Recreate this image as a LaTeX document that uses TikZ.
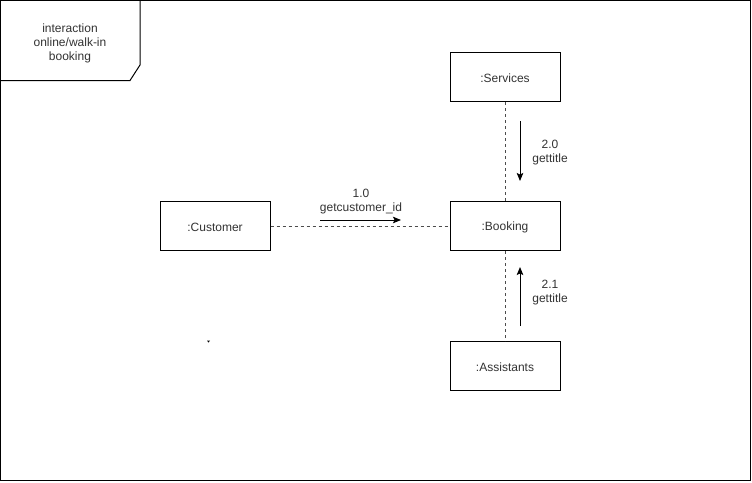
\documentclass[tikz,border=0pt]{standalone}
\usepackage{fontspec}
\setmainfont{Liberation Sans}
\usetikzlibrary{arrows.meta}
\begin{document}
\begin{tikzpicture}[x=1pt,y=-1pt,
  obj/.style={draw=black,line width=1pt,minimum width=110pt,minimum height=49pt,inner sep=0pt},
  txt/.style={inner sep=0pt,font=\fontsize{12}{14}\selectfont,text=black!80},
  lbl/.style={font=\fontsize{12}{14}\selectfont,text=black!80,align=center,inner sep=0pt},
  link/.style={draw=black!70,line width=0.9pt,dash pattern=on 3pt off 3pt},
  msg/.style={draw=black,line width=1pt,-{Stealth[length=8pt,width=6.5pt,inset=1.5pt]}}]
\useasboundingbox (0,0) rectangle (752,482);
\fill[white] (0,0) rectangle (752,482);
\draw[line width=1pt] (0.5,0.5) rectangle (750.5,480.5);
\draw[line width=1pt] (0.5,80.5) -- (130,80.5) -- (140,65) -- (140,0.5);
\node[lbl] (frame) at (70,43.5) {interaction\\online/walk-in\\booking};
\node[obj] (services) at (505,77) {};
\node[txt] (servicesT) at (505,78.5) {:Services};
\node[obj] (customer) at (215,226) {};
\node[txt] (customerT) at (215,227.5) {:Customer};
\node[obj] (booking) at (505,226) {};
\node[txt] (bookingT) at (505,227.5) {:Booking};
\node[obj] (assist) at (505,366) {};
\node[txt] (assistT) at (505,367) {:Assistants};
\draw[link] (customer.east) -- (booking.west);
\draw[link] (services.south) -- (booking.north);
\draw[link] (booking.south) -- (assist.north);
\coordinate (a1s) at (320,220);
\coordinate (a1e) at (401,220);
\draw[msg] (a1s) -- (a1e);
\node[lbl] (l1) at (361,202) {1.0\\getcustomer\_id};
\coordinate (a2s) at (520,121);
\coordinate (a2e) at (520,181);
\draw[msg] (a2s) -- (a2e);
\node[lbl] (l2) at (550,153) {2.0\\gettitle};
\coordinate (a3s) at (520,326);
\coordinate (a3e) at (520,267);
\draw[msg] (a3s) -- (a3e);
\node[lbl] (l3) at (550,293) {2.1\\gettitle};
\fill[black] (207,340.5) -- (210,340.5) -- (208.5,342.5) -- cycle;
\end{tikzpicture}
\end{document}
